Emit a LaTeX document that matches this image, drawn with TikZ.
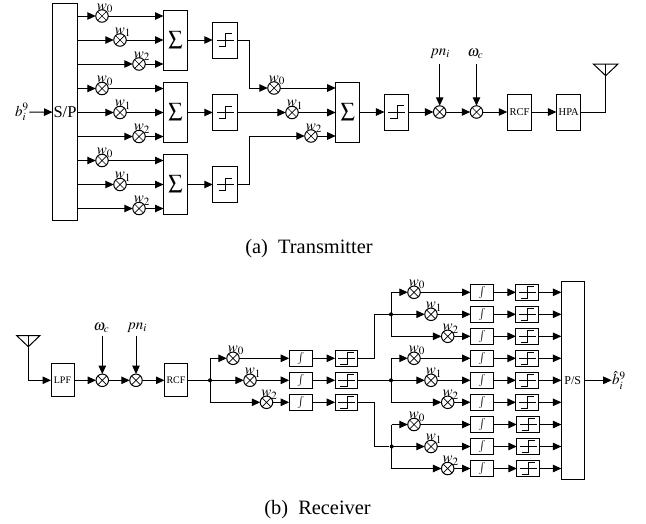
\documentclass[tikz,border=0pt]{standalone}
\usepackage{mathptmx}
\usepackage[no-math]{fontspec}
\setmainfont{Liberation Serif}
\usetikzlibrary{positioning,arrows.meta,calc}

\begin{document}
\begin{tikzpicture}[
    x=1pt, y=-1pt,
    line width=1pt,
    box/.style={draw, inner sep=0pt, outer sep=0pt, align=center, minimum width=#1},
    box/.default=24pt,
    sumbox/.style={box=24pt, minimum height=60pt, font=\fontsize{14}{14}\selectfont},
    lim/.style={box=#1, path picture={
        \draw[line width=0.8pt, shift={(path picture bounding box.center)}]
          (-8.5,0) -- (8.5,0) (-6.5,6.3) -- (0.5,6.3) -- (0.5,-6.3) -- (7,-6.3);}},
    lim/.default=24.5pt,
    block/.style={box=24.5pt, minimum height=36pt, font=\fontsize{10.5}{11}\selectfont},
    rxblock/.style={box=23pt, minimum height=33pt, font=\fontsize{10}{10}\selectfont},
    intbox/.style={box=23pt, minimum height=16.5pt, font=\fontsize{12}{12}\selectfont},
    mult/.style={draw, circle, inner sep=0pt, outer sep=0pt, minimum size=12.5pt, path picture={
        \draw[line width=0.7pt] (path picture bounding box.north west) -- (path picture bounding box.south east)
          (path picture bounding box.north east) -- (path picture bounding box.south west);}},
    wlab/.style={inner sep=0pt, font=\fontsize{15}{15}\selectfont},
    dot/.style={circle, fill=black, inner sep=0pt, minimum size=4pt},
    captext/.style={inner sep=0pt, font=\fontsize{20.4}{22}\selectfont},
    arr/.style={-{Stealth[length=8.5pt, width=7.5pt, inset=0pt]}}
  ]
    \useasboundingbox (0,0) rectangle (646,523);

    % transmitter
    \node[box=25pt, minimum height=216.5pt, font=\fontsize{16.5}{16.5}\selectfont] (sp) at (65,112.2) {S/P};
    \node[wlab] (bin) at (22,112) {$b_i^9$};
    \draw[arr] (bin) -- (sp);

    \foreach \g/\yc in {1/40, 2/112.5, 3/184.5} {
      \node[sumbox] (sum\g) at (175.5,\yc) {$\displaystyle\sum$};
      \node[lim, minimum height=36pt] (lim\g) at (225,\yc) {};
      \draw[arr] (sum\g) -- (lim\g);
      \foreach \k/\xm/\dy in {0/102/-24, 1/120/0, 2/139/24} {
        \node[mult] (m\g\k) at (\xm,\yc+\dy) {};
        \node[wlab, above=-3.5pt of m\g\k, xshift=3pt] (w\g\k) {$w_\k$};
        \draw[arr] (sp.east |- m\g\k) -- (m\g\k);
        \draw[arr] (m\g\k) -- (sum\g.west |- m\g\k);
      }
    }

    \node[sumbox] (sumt) at (347.7,112) {$\displaystyle\sum$};
    \foreach \k/\xm/\ym in {0/274/88, 1/292/112.5, 2/311/136} {
      \node[mult] (mt\k) at (\xm,\ym) {};
      \node[wlab, above=-3.5pt of mt\k, xshift=3pt] (wt\k) {$w_\k$};
      \draw[arr] (mt\k) -- (sumt.west |- mt\k);
    }
    \coordinate (bendt) at (249,0);
    \draw[arr] (lim1) -- (bendt |- lim1) -- (bendt |- mt0) -- (mt0);
    \draw[arr] (lim2) -- (mt1);
    \draw[arr] (lim3) -- (bendt |- lim3) -- (bendt |- mt2) -- (mt2);

    \node[lim, minimum height=36pt] (limt) at (396.7,112) {};
    \node[mult] (mpn) at (439.7,112) {};
    \node[mult] (mom) at (476.5,112) {};
    \node[block] (rcft) at (519.5,112) {RCF};
    \node[block] (hpa) at (568.7,112) {HPA};
    \node[wlab] (pnt) at (440,54) {$pn_i$};
    \node[wlab] (omt) at (475.5,54) {$\omega_c$};
    \coordinate (antt) at (605.7,64);
    \draw[arr] (sumt) -- (limt);
    \draw[arr] (limt) -- (mpn);
    \draw[arr] (mpn) -- (mom);
    \draw[arr] (mom) -- (rcft);
    \draw[arr] (rcft) -- (hpa);
    \draw[arr] (mpn |- antt) -- (mpn);
    \draw[arr] (mom |- antt) -- (mom);
    \draw (hpa) -| (antt);
    \draw (antt) ++(-12.3,0) -- ++(24.6,0) -- ++(-12.3,11.7) -- cycle;
    \node[captext] (capa) at (309,249) {(a)\ \ Transmitter};

    % receiver
    \coordinate (antr) at (28.3,335.7);
    \node[rxblock] (lpf) at (62.5,380.3) {LPF};
    \node[mult] (mom2) at (102.3,380.3) {};
    \node[mult] (mpn2) at (136,380.3) {};
    \node[rxblock] (rcfr) at (176,380.3) {RCF};
    \node[wlab] (omr) at (101.5,327.5) {$\omega_c$};
    \node[wlab] (pnr) at (137,327.5) {$pn_i$};
    \draw (antr) ++(-11.5,0) -- ++(23,0) -- ++(-11.5,11) -- cycle;
    \draw[arr] (antr) |- (lpf);
    \draw[arr] (lpf) -- (mom2);
    \draw[arr] (mom2) -- (mpn2);
    \draw[arr] (mpn2) -- (rcfr);
    \draw[arr] (mom2 |- antr) -- (mom2);
    \draw[arr] (mpn2 |- antr) -- (mpn2);

    \node[dot] (jr) at (210,380.3) {};
    \draw (rcfr) -- (jr);
    \foreach \k/\xm/\dy in {0/233/-22, 1/250/0, 2/266.5/22} {
      \node[mult] (mr\k) at (\xm,380.3+\dy) {};
      \node[wlab, above=-3.5pt of mr\k, xshift=3pt] (wr\k) {$w_\k$};
      \node[intbox] (intr\k) at (300.7,380.3+\dy) {$\int$};
      \node[lim, minimum height=16.5pt, minimum width=22.7pt] (limr\k) at (346.5,380.3+\dy) {};
      \draw[arr] (jr |- mr\k) -- (mr\k);
      \draw[arr] (mr\k) -- (intr\k);
      \draw[arr] (intr\k) -- (limr\k);
    }
    \draw (jr |- mr0) -- (jr |- mr2);

    \node[box=22.7pt, minimum height=198pt, font=\fontsize{12}{12}\selectfont] (ps) at (572.7,380.3) {P/S};
    \node[wlab] (bout) at (619,380.3) {$\hat{b}_i^9$};
    \draw[arr] (ps) -- (bout);

    \foreach \g/\yc/\xj/\xl in {1/314.3/391/527.3, 2/380.3/391/527.3, 3/446.5/391.7/528.2} {
      \node[dot] (j\g) at (\xj,\yc) {};
      \foreach \k/\xm/\dy in {0/414/-22, 1/431/0, 2/447.7/22} {
        \node[mult] (n\g\k) at (\xm,\yc+\dy) {};
        \node[wlab, above=-3.5pt of n\g\k, xshift=3pt] (v\g\k) {$w_\k$};
        \node[intbox] (i\g\k) at (482,\yc+\dy) {$\int$};
        \node[lim, minimum height=16.5pt, minimum width=22.7pt] (l\g\k) at (\xl,\yc+\dy) {};
        \draw[arr] (j\g |- n\g\k) -- (n\g\k);
        \draw[arr] (n\g\k) -- (i\g\k);
        \draw[arr] (i\g\k) -- (l\g\k);
        \draw[arr] (l\g\k) -- (ps.west |- l\g\k);
      }
      \draw (j\g |- n\g0) -- (j\g |- n\g2);
    }
    \coordinate (bendr) at (374,0);
    \draw (limr0) -- (bendr |- limr0) -- (bendr |- j1) -- (j1);
    \draw (limr1) -- (j2);
    \draw (limr2) -- (bendr |- limr2) -- (bendr |- j3) -- (j3);
    \node[captext] (capb) at (317.5,510) {(b)\ \ Receiver};
  \end{tikzpicture}
\end{document}
